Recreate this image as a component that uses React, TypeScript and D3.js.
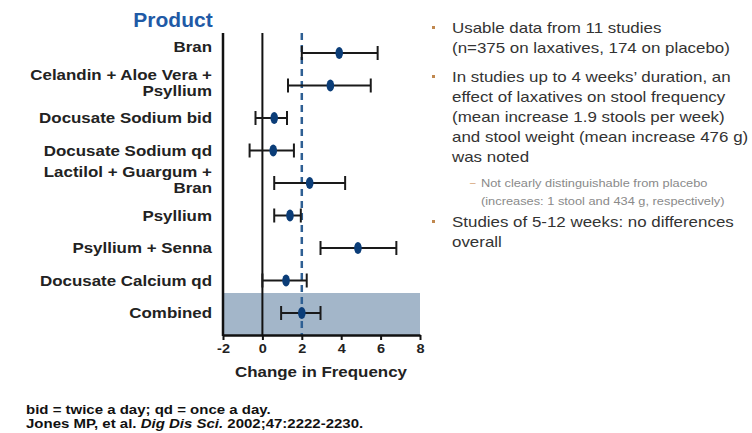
import React, { useEffect, useRef } from 'react';
import * as d3 from 'd3';

// forest plot values
const products = [
  'Bran',
  'Celandin + Aloe Vera +|Psyllium',
  'Docusate Sodium bid',
  'Docusate Sodium qd',
  'Lactilol + Guargum +|Bran',
  'Psyllium',
  'Psyllium + Senna',
  'Docusate Calcium qd',
  'Combined',
];
const means = [3.9, 3.45, 0.6, 0.55, 2.4, 1.4, 4.85, 1.2, 2.0];
const lows = [2.0, 1.3, -0.35, -0.65, 0.6, 0.6, 2.95, 0.0, 0.95];
const highs = [5.85, 5.5, 1.25, 1.6, 4.2, 1.95, 6.8, 2.25, 2.95];
const xTicks = [-2, 0, 2, 4, 6, 8];
const refLine = 2;

const bullets = [
  ['Usable data from 11 studies', '(n=375 on laxatives, 174 on placebo)'],
  [
    'In studies up to 4 weeks\u2019 duration, an',
    'effect of laxatives on stool frequency',
    '(mean increase 1.9 stools per week)',
    'and stool weight (mean increase 476 g)',
    'was noted',
  ],
  ['Studies of 5-12 weeks: no differences', 'overall'],
];
const subBullet = ['Not clearly distinguishable from placebo', '(increases: 1 stool and 434 g, respectively)'];

const SX = 1.21; // the slide is stretched sideways
const FONT = '"Liberation Sans", Arial, sans-serif';

export default function App() {
  const ref = useRef<SVGSVGElement>(null);

  useEffect(() => {
    const svg = d3.select(ref.current);
    svg.selectAll('*').remove();

    const x = d3.scaleLinear().domain([-2, 8]).range([223, 420]);
    const y = d3.scalePoint().domain(products).range([53, 313]);
    const top = 33, bottom = 335;

    const stretched = (g, tx, ty, txt, size, weight, anchor, fill) =>
      g.append('text')
        .attr('transform', `translate(${tx},${ty}) scale(${SX},1)`)
        .attr('text-anchor', anchor)
        .style('font-family', FONT)
        .style('font-size', size + 'px')
        .style('font-weight', weight)
        .attr('fill', fill)
        .text(txt);

    // combined band
    svg.append('rect')
      .attr('x', x(-2)).attr('y', 293)
      .attr('width', x(8) - x(-2)).attr('height', bottom - 293)
      .attr('fill', '#a3b6c9');

    // title
    svg.append('text')
      .attr('transform', `translate(173,27) scale(1.05,1)`)
      .attr('text-anchor', 'middle')
      .style('font-family', FONT).style('font-size', '20px').style('font-weight', 'bold')
      .attr('fill', '#1f5aa6')
      .text('Product');

    // labels
    products.forEach((p) => {
      const lines = p.split('|');
      const cy = y(p);
      if (lines.length === 1) {
        stretched(svg, 212, cy + 5 - (p === 'Bran' ? 6 : 0), lines[0], 14, 'bold', 'end', '#222');
      } else {
        stretched(svg, 212, cy - 6, lines[0], 14, 'bold', 'end', '#222');
        stretched(svg, 212, cy + 10, lines[1], 14, 'bold', 'end', '#222');
      }
    });

    // zero line and reference line
    svg.append('line')
      .attr('x1', x(0)).attr('x2', x(0)).attr('y1', top).attr('y2', bottom)
      .attr('stroke', '#111').attr('stroke-width', 2);
    svg.append('line')
      .attr('x1', x(refLine)).attr('x2', x(refLine)).attr('y1', top).attr('y2', bottom)
      .attr('stroke', '#2e5f93').attr('stroke-width', 2.5).attr('stroke-dasharray', '7,5');

    // error bars
    const rows = svg.append('g').selectAll('g').data(products).join('g')
      .attr('transform', (d) => `translate(0,${y(d)})`);
    rows.append('line')
      .attr('x1', (d, i) => x(lows[i])).attr('x2', (d, i) => x(highs[i]))
      .attr('stroke', '#1a1a1a').attr('stroke-width', 2);
    rows.append('line')
      .attr('x1', (d, i) => x(lows[i])).attr('x2', (d, i) => x(lows[i]))
      .attr('y1', -7).attr('y2', 7)
      .attr('stroke', '#1a1a1a').attr('stroke-width', 2);
    rows.append('line')
      .attr('x1', (d, i) => x(highs[i])).attr('x2', (d, i) => x(highs[i]))
      .attr('y1', -7).attr('y2', 7)
      .attr('stroke', '#1a1a1a').attr('stroke-width', 2);
    rows.append('ellipse')
      .attr('cx', (d, i) => x(means[i])).attr('cy', 0)
      .attr('rx', 3.8).attr('ry', 6)
      .attr('fill', '#0b3d78');

    // axes
    svg.append('line')
      .attr('x1', x(-2)).attr('x2', x(-2)).attr('y1', top).attr('y2', bottom + 1)
      .attr('stroke', '#111').attr('stroke-width', 2.5);
    const ax = svg.append('g').attr('transform', `translate(0,${bottom})`)
      .call(d3.axisBottom(x).tickValues(xTicks).tickSize(5).tickSizeOuter(0).tickPadding(4)
        .tickFormat((d) => String(d)));
    ax.select('.domain').attr('stroke', '#111').attr('stroke-width', 2.5);
    ax.selectAll('.tick line').attr('stroke', '#111').attr('stroke-width', 2);
    ax.selectAll('.tick text')
      .attr('fill', '#222')
      .style('font-family', FONT).style('font-size', '12px').style('font-weight', 'bold')
      .attr('transform', `scale(${SX},1)`);
    stretched(svg, 321, 377, 'Change in Frequency', 14, 'bold', 'middle', '#222');

    // right-hand notes
    const notes = svg.append('g');
    let yy = 33;
    bullets.forEach((b, bi) => {
      notes.append('rect').attr('x', 432).attr('y', yy - 7).attr('width', 3).attr('height', 3).attr('fill', '#c0884f');
      b.forEach((ln) => {
        stretched(notes, 452, yy, ln, 14, 'normal', 'start', '#333');
        yy += 20;
      });
      if (bi === 1) {
        yy += 5;
        notes.append('text').attr('x', 470).attr('y', yy - 1)
          .style('font-family', FONT).style('font-size', '10px').attr('fill', '#d6a57a').text('\u2013');
        subBullet.forEach((ln) => {
          stretched(notes, 481, yy, ln, 10.6, 'normal', 'start', '#8a8a8a');
          yy += 18;
        });
        yy += 4;
      } else {
        yy += 9;
      }
    });

    // footer
    stretched(svg, 26, 414, 'bid = twice a day; qd = once a day.', 12.4, 'bold', 'start', '#111');
    const ft = svg.append('text')
      .attr('transform', `translate(26,428) scale(${SX},1)`)
      .style('font-family', FONT).style('font-size', '12.4px').style('font-weight', 'bold')
      .attr('fill', '#111');
    ft.append('tspan').text('Jones MP, et al. ');
    ft.append('tspan').style('font-style', 'italic').text('Dig Dis Sci.');
    ft.append('tspan').text(' 2002;47:2222-2230.');
  }, []);

  return (
    <svg ref={ref} width={752} height={433}
      style={{ position: 'absolute', left: 0, top: 0, background: '#fff' }} />
  );
}
